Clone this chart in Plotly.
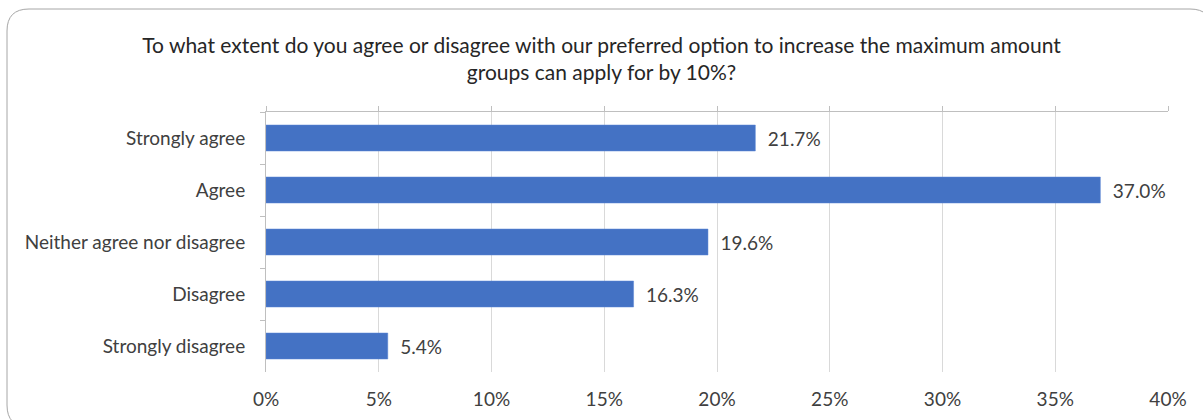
import plotly.graph_objects as go

categories = ["Strongly agree", "Agree", "Neither agree nor disagree", "Disagree", "Strongly disagree"]
values = [21.7, 37.0, 19.6, 16.3, 5.4]
tick_vals = [0, 5, 10, 15, 20, 25, 30, 35, 40]
tick_text = ["0%", "5%", "10%", "15%", "20%", "25%", "30%", "35%", "40%"]
title_text = ("To what extent do you agree or disagree with our preferred option to increase the maximum amount<br>"
              "groups can apply for by 10%?")
labels = ["\u2002" + f"{v:.1f}%" for v in values]

FONT = "Lato"
TXT = "#404040"
W, H = 1203, 420
L, R, T, B = 266, 35, 112, 48

fig = go.Figure()
fig.add_trace(go.Bar(
    y=categories, x=values, orientation="h",
    marker=dict(color="#4472C4", line=dict(color="#5b87d4", width=0.5)),
    text=labels, textposition="outside", cliponaxis=False,
    textfont=dict(family=FONT, size=19, color=TXT),
    hoverinfo="skip", showlegend=False,
))
# invisible trace for the top axis
fig.add_trace(go.Scatter(x=[0, 40], y=[categories[0], categories[0]], xaxis="x2",
                         mode="markers", marker=dict(opacity=0), showlegend=False, hoverinfo="skip"))

pw = W - L - R
ph = H - T - B
def px(x):
    return (x - L) / pw
def py(y):
    return (H - B - y) / ph

x0, x1, y0, y1, r = 7, 1212, 9, 427, 22
path = (f"M {px(x0)},{py(y0+r)} L {px(x0)},{py(y1-r)} Q {px(x0)},{py(y1)} {px(x0+r)},{py(y1)} "
        f"L {px(x1-r)},{py(y1)} Q {px(x1)},{py(y1)} {px(x1)},{py(y1-r)} "
        f"L {px(x1)},{py(y0+r)} Q {px(x1)},{py(y0)} {px(x1-r)},{py(y0)} "
        f"L {px(x0+r)},{py(y0)} Q {px(x0)},{py(y0)} {px(x0)},{py(y0+r)} Z")

fig.update_layout(
    width=W, height=H,
    margin=dict(l=L, r=R, t=T, b=B, autoexpand=False),
    paper_bgcolor="white", plot_bgcolor="white",
    bargap=0.5,
    title=dict(text=title_text, x=0.5, xref="container", xanchor="center",
               y=1 - 53 / H, yanchor="top", automargin=False,
               font=dict(family=FONT, size=21, color="#262626")),
    xaxis=dict(range=[0, 40], tickvals=tick_vals, ticktext=tick_text, automargin=False,
               showgrid=True, gridcolor="#d9d9d9", gridwidth=1,
               zeroline=False, showline=False, ticks="",
               tickfont=dict(family=FONT, size=19, color=TXT), ticklabelstandoff=14),
    xaxis2=dict(range=[0, 40], overlaying="x", side="top", tickvals=tick_vals, automargin=False,
                showticklabels=False, showgrid=False, zeroline=False,
                showline=True, linecolor="#bfbfbf", linewidth=1,
                ticks="outside", ticklen=5, tickcolor="#bfbfbf"),
    yaxis=dict(autorange="reversed", categoryorder="array", categoryarray=categories, automargin=False,
               showline=True, linecolor="#bfbfbf", linewidth=1,
               ticks="outside", tickson="boundaries", ticklen=5, tickcolor="#bfbfbf",
               showgrid=False, tickfont=dict(family=FONT, size=19, color=TXT),
               ticklabelstandoff=16),
    shapes=[dict(type="path", xref="paper", yref="paper", path=path,
                 line=dict(color="#a6a6a6", width=1), layer="below")],
)

fig.write_html("out.html", config={"displayModeBar": False},
               post_script="document.body.style.margin='0';document.body.style.overflow='hidden';")
